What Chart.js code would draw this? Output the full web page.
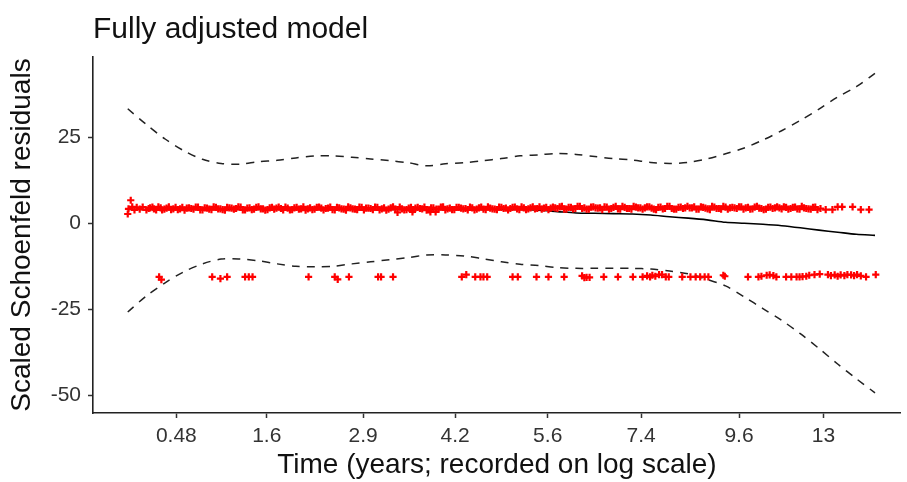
<!DOCTYPE html>
<html>
<head>
<meta charset="utf-8">
<title>Fully adjusted model</title>
<script src="https://cdn.jsdelivr.net/npm/chart.js@4.4.1/dist/chart.umd.min.js"></script>
<style>
    html, body { margin: 0; padding: 0; background: #fff; overflow: hidden; }
    #wrap { width: 907px; height: 482px; }
</style>
</head>
<body>
<div id="wrap"><canvas id="zphChart" width="907" height="482"></canvas></div>
<script>
// Transformed time (0 = first event, 1 = last event)
const timeGrid = [0, 0.025, 0.05, 0.075, 0.1, 0.125, 0.15, 0.175, 0.2, 0.225, 0.25, 0.275, 0.3, 0.325,
    0.35, 0.375, 0.4, 0.425, 0.45, 0.475, 0.5, 0.525, 0.55, 0.575, 0.6, 0.625, 0.65, 0.675, 0.7,
    0.725, 0.75, 0.775, 0.8, 0.825, 0.85, 0.875, 0.9, 0.925, 0.95, 0.975, 1.0];

// Smoothed beta(t) (hidden under the residuals until ~0.6) and its confidence band
const fitLine = [4.0, 4.0, 4.0, 4.0, 4.0, 4.0, 4.0, 4.0, 4.0, 4.0, 4.0, 4.0, 4.0, 4.0, 4.0, 4.0,
    4.0, 4.0, 4.0, 4.0, 4.0, 4.0, 3.8, 3.4, 3.0, 2.9, 2.8, 2.7, 2.4, 1.9, 1.5, 1.0, 0.3, 0.0, -0.3,
    -0.7, -1.3, -2.0, -2.6, -3.2, -3.5];
const upperCI = [33.3, 28.7, 24.5, 21.1, 18.6, 17.4, 17.2, 17.9, 18.3, 19.0, 19.6, 19.6, 19.2, 18.7,
    18.2, 17.6, 16.7, 17.3, 17.6, 18.2, 18.8, 19.6, 19.9, 20.3, 20.0, 19.4, 18.8, 18.4, 17.7, 17.4,
    17.7, 18.7, 20.2, 21.9, 24.2, 26.9, 29.9, 33.2, 36.7, 39.7, 43.6];
const lowerCI = [-25.8, -21.1, -17.3, -14.1, -11.8, -10.4, -10.4, -10.9, -11.8, -12.5, -12.6, -12.5,
    -11.8, -11.2, -10.6, -10.0, -9.2, -9.2, -9.5, -10.3, -11.2, -11.9, -12.3, -12.9, -13.1, -13.1,
    -13.1, -13.1, -13.3, -13.9, -14.7, -16.3, -18.2, -21.4, -24.8, -28.2, -32.1, -36.4, -40.9, -45.2, -49.3];

// Scaled Schoenfeld residuals [time, residual] - the dense upper cluster
const residHigh = [
    [0.000, 2.7], [0.001, 4.2], [0.004, 6.7], [0.006, 4.8], [0.009, 3.9], [0.012, 4.6], [0.016, 4.1],
    [0.020, 4.7], [0.025, 3.9], [0.030, 4.5], [0.035, 4.2], [0.041, 4.8], [0.046, 3.9], [0.052, 4.4],
    [0.058, 4.0], [0.064, 4.6], [0.070, 4.2], [0.076, 3.8], [0.082, 4.5], [0.088, 4.1], [0.094, 4.7],
    [0.100, 3.9], [0.106, 4.4], [0.112, 4.0], [0.118, 4.6], [0.124, 4.2], [0.130, 3.8], [0.136, 4.5],
    [0.142, 4.1], [0.148, 4.8], [0.154, 3.9], [0.160, 4.4], [0.166, 4.0], [0.172, 4.6], [0.178, 4.2],
    [0.184, 3.8], [0.190, 4.5], [0.196, 4.1], [0.202, 4.7], [0.208, 3.9], [0.214, 4.4], [0.220, 4.0],
    [0.226, 4.6], [0.232, 4.2], [0.238, 3.8], [0.244, 4.5], [0.250, 4.1], [0.256, 4.7], [0.262, 3.9],
    [0.268, 4.4], [0.274, 4.0], [0.280, 4.6], [0.286, 4.2], [0.292, 3.8], [0.298, 4.5], [0.304, 4.1],
    [0.310, 4.7], [0.316, 3.9], [0.322, 4.4], [0.328, 4.0], [0.334, 4.6], [0.340, 4.2], [0.346, 3.8],
    [0.352, 4.5], [0.358, 4.1], [0.361, 3.2], [0.364, 4.7], [0.370, 3.9], [0.376, 4.4], [0.381, 3.3],
    [0.382, 4.0], [0.388, 4.6], [0.394, 4.2], [0.400, 3.8], [0.405, 3.3], [0.406, 4.5], [0.412, 3.3],
    [0.413, 4.1], [0.419, 4.7], [0.425, 3.9], [0.431, 4.4], [0.437, 4.0], [0.443, 4.6], [0.449, 4.2],
    [0.455, 3.9], [0.461, 4.5], [0.467, 4.1], [0.473, 4.7], [0.479, 4.0], [0.485, 4.4], [0.491, 4.1],
    [0.497, 4.7], [0.503, 4.3], [0.509, 3.9], [0.515, 4.6], [0.521, 4.2], [0.527, 4.8], [0.533, 4.0],
    [0.539, 4.5], [0.545, 4.2], [0.551, 4.8], [0.557, 4.4], [0.563, 4.0], [0.569, 4.7], [0.575, 4.3],
    [0.581, 4.9], [0.587, 4.1], [0.593, 4.6], [0.599, 4.3], [0.605, 4.9], [0.611, 4.5], [0.617, 4.1],
    [0.623, 4.8], [0.629, 4.4], [0.635, 4.0], [0.641, 4.7], [0.647, 4.3], [0.653, 4.9], [0.659, 4.1],
    [0.665, 4.6], [0.671, 4.3], [0.677, 4.9], [0.683, 4.5], [0.689, 4.1], [0.695, 4.8], [0.701, 4.4],
    [0.707, 4.0], [0.713, 4.7], [0.719, 4.3], [0.725, 4.9], [0.731, 4.1], [0.737, 4.6], [0.743, 4.3],
    [0.749, 4.9], [0.755, 4.5], [0.761, 4.1], [0.767, 4.8], [0.773, 4.4], [0.779, 4.0], [0.785, 4.7],
    [0.791, 4.3], [0.797, 4.9], [0.803, 4.1], [0.809, 4.6], [0.815, 4.3], [0.821, 4.8], [0.827, 4.5],
    [0.833, 4.1], [0.839, 4.7], [0.845, 4.4], [0.851, 4.0], [0.857, 4.6], [0.863, 4.3], [0.869, 4.8],
    [0.875, 4.2], [0.881, 4.6], [0.887, 4.3], [0.893, 4.7], [0.899, 4.1], [0.905, 4.5], [0.911, 4.2],
    [0.917, 4.6], [0.923, 4.0], [0.927, 4.3], [0.934, 4.0], [0.943, 4.0], [0.950, 4.8], [0.956, 4.8],
    [0.970, 4.8], [0.981, 4.0], [0.992, 4.0]
];
// the same cluster, events falling between the ones above
const residHighMid = [
    [0.028, 4.3], [0.033, 4.7], [0.038, 3.9], [0.044, 4.5], [0.049, 4.1], [0.055, 4.8], [0.061, 4.2],
    [0.067, 4.0], [0.073, 4.6], [0.079, 4.4], [0.085, 4.3], [0.091, 4.7], [0.097, 3.9], [0.103, 4.5],
    [0.109, 4.1], [0.115, 4.8], [0.121, 4.2], [0.127, 4.0], [0.133, 4.6], [0.139, 4.4], [0.145, 4.3],
    [0.151, 4.7], [0.157, 3.9], [0.163, 4.5], [0.169, 4.1], [0.175, 4.8], [0.181, 4.2], [0.187, 4.0],
    [0.193, 4.6], [0.199, 4.4], [0.205, 4.3], [0.211, 4.7], [0.217, 3.9], [0.223, 4.5], [0.229, 4.1],
    [0.235, 4.8], [0.241, 4.2], [0.247, 4.0], [0.253, 4.6], [0.259, 4.4], [0.265, 4.3], [0.271, 4.7],
    [0.277, 3.9], [0.283, 4.5], [0.289, 4.1], [0.295, 4.8], [0.301, 4.2], [0.307, 4.0], [0.313, 4.6],
    [0.319, 4.4], [0.325, 4.3], [0.331, 4.7], [0.337, 3.9], [0.343, 4.5], [0.349, 4.1], [0.355, 4.8],
    [0.367, 4.2], [0.373, 4.0], [0.379, 4.6], [0.385, 4.4], [0.391, 4.3], [0.397, 4.7], [0.403, 3.9],
    [0.409, 4.5], [0.416, 4.1], [0.422, 4.8], [0.428, 4.2], [0.434, 4.0], [0.440, 4.6], [0.446, 4.4],
    [0.452, 4.3], [0.458, 4.7], [0.464, 3.9], [0.470, 4.5], [0.476, 4.1], [0.482, 4.8], [0.488, 4.2],
    [0.494, 4.0], [0.500, 4.6], [0.506, 4.4], [0.512, 4.3], [0.518, 4.7], [0.524, 4.0], [0.530, 4.5],
    [0.536, 4.2], [0.542, 4.8], [0.548, 4.3], [0.554, 4.1], [0.560, 4.6], [0.566, 4.4], [0.572, 4.5],
    [0.578, 4.8], [0.584, 4.1], [0.590, 4.6], [0.596, 4.2], [0.602, 4.9], [0.608, 4.3], [0.614, 4.1],
    [0.620, 4.7], [0.626, 4.5], [0.632, 4.5], [0.638, 4.8], [0.644, 4.1], [0.650, 4.6], [0.656, 4.2],
    [0.662, 4.9], [0.668, 4.3], [0.674, 4.1], [0.680, 4.7], [0.686, 4.5], [0.692, 4.5], [0.698, 4.8],
    [0.704, 4.1], [0.710, 4.6], [0.716, 4.2], [0.722, 4.9], [0.728, 4.3], [0.734, 4.1], [0.740, 4.7],
    [0.746, 4.5], [0.752, 4.5], [0.758, 4.8], [0.764, 4.1], [0.770, 4.6], [0.776, 4.2], [0.782, 4.9],
    [0.788, 4.3], [0.794, 4.1], [0.800, 4.7], [0.806, 4.5], [0.812, 4.5], [0.818, 4.8], [0.824, 4.1],
    [0.830, 4.6], [0.836, 4.2], [0.842, 4.9], [0.848, 4.3], [0.854, 4.1], [0.860, 4.7], [0.866, 4.5],
    [0.872, 4.5], [0.878, 4.8], [0.884, 4.1], [0.890, 4.6], [0.896, 4.2], [0.902, 4.9], [0.908, 4.3],
    [0.914, 4.1], [0.920, 4.7]
];
// the lower cluster
const residLow = [
    [0.042, -15.6], [0.045, -16.4], [0.113, -15.6], [0.124, -16.1], [0.133, -15.6], [0.157, -15.6],
    [0.162, -15.6], [0.167, -15.6], [0.242, -15.6], [0.277, -15.6], [0.281, -16.3], [0.296, -15.6],
    [0.335, -15.6], [0.339, -15.6], [0.355, -15.6], [0.447, -15.6], [0.453, -14.9], [0.465, -15.6],
    [0.472, -15.6], [0.476, -15.6], [0.481, -15.6], [0.515, -15.6], [0.522, -15.6], [0.547, -15.6],
    [0.563, -15.6], [0.584, -15.6], [0.608, -15.3], [0.611, -15.8], [0.614, -15.7], [0.618, -15.7],
    [0.637, -15.6], [0.656, -15.6], [0.676, -15.6], [0.689, -15.6], [0.695, -15.3], [0.699, -15.6],
    [0.702, -15.1], [0.706, -15.4], [0.711, -14.9], [0.715, -14.9], [0.720, -15.6], [0.724, -15.6],
    [0.742, -15.6], [0.753, -15.6], [0.760, -15.6], [0.766, -15.6], [0.772, -15.6], [0.777, -15.6],
    [0.797, -15.1], [0.799, -15.4], [0.830, -15.6], [0.844, -15.6], [0.848, -15.4], [0.855, -15.1],
    [0.859, -15.0], [0.864, -15.2], [0.868, -15.6], [0.881, -15.6], [0.888, -15.6], [0.895, -15.6],
    [0.899, -15.6], [0.903, -15.5], [0.908, -15.4], [0.912, -15.1], [0.919, -14.9], [0.926, -14.8],
    [0.937, -14.9], [0.941, -15.2], [0.946, -15.0], [0.950, -15.4], [0.954, -15.0], [0.959, -15.2],
    [0.963, -14.9], [0.968, -15.0], [0.972, -15.2], [0.976, -14.9], [0.981, -15.3], [0.988, -15.6],
    [1.001, -14.9]
];

// Axis ticks: positions on the transformed scale and the times they stand for
const tickPos = [0.065, 0.186, 0.315, 0.438, 0.562, 0.687, 0.818, 0.931];
const tickLabels = ['0.48', '1.6', '2.9', '4.2', '5.6', '7.4', '9.6', '13'];
const yTicks = [-50, -25, 0, 25];

const FONT = '"Liberation Sans", Arial, sans-serif';

function toPoints(xs, ys) {
    return xs.map((x, i) => ({ x: x, y: ys[i] }));
}
function pairsToPoints(pairs) {
    return pairs.map(p => ({ x: p[0], y: p[1] }));
}

const residStyle = {
    type: 'scatter',
    pointStyle: 'cross',
    pointRadius: 3.6,
    borderColor: '#ff0000',
    backgroundColor: '#ff0000',
    borderWidth: 2.2
};
const ciStyle = {
    type: 'line',
    borderColor: '#222',
    borderWidth: 1.5,
    borderDash: [8, 7],
    pointRadius: 0,
    tension: 0.3,
    fill: false
};

const ctx = document.getElementById('zphChart').getContext('2d');
const zphChart = new Chart(ctx, {
    type: 'scatter',
    data: {
        datasets: [
            Object.assign({ data: pairsToPoints(residHigh) }, residStyle),
            Object.assign({ data: pairsToPoints(residHighMid) }, residStyle),
            Object.assign({ data: pairsToPoints(residLow) }, residStyle),
            {
                type: 'line',
                data: toPoints(timeGrid, fitLine),
                borderColor: '#000',
                borderWidth: 1.6,
                pointRadius: 0,
                tension: 0.3,
                fill: false
            },
            Object.assign({ data: toPoints(timeGrid, upperCI) }, ciStyle),
            Object.assign({ data: toPoints(timeGrid, lowerCI) }, ciStyle)
        ]
    },
    options: {
        responsive: false,
        animation: false,
        layout: { padding: 0 },
        plugins: {
            legend: { display: false },
            tooltip: { enabled: false },
            title: {
                display: true,
                text: 'Fully adjusted model',
                align: 'start',
                fullSize: false,
                color: '#111',
                font: { family: FONT, size: 30, weight: 'normal', lineHeight: 1.2 },
                padding: { top: 12, bottom: 9 }
            }
        },
        scales: {
            x: {
                type: 'linear',
                min: -0.0465,
                max: 1.0345,
                afterFit: (scale) => { scale.height = 69; },
                afterBuildTicks: (scale) => { scale.ticks = tickPos.map(v => ({ value: v })); },
                ticks: {
                    autoSkip: false,
                    maxRotation: 0,
                    padding: 6,
                    color: '#333',
                    font: { family: FONT, size: 21 },
                    callback: (value, index) => tickLabels[index]
                },
                grid: { drawOnChartArea: false, drawTicks: true, tickLength: 5, tickWidth: 1.5, tickColor: '#333' },
                border: { display: true, color: '#222', width: 1.6 },
                title: {
                    display: true,
                    text: 'Time (years; recorded on log scale)',
                    color: '#111',
                    font: { family: FONT, size: 28, lineHeight: 1.2 },
                    padding: { top: 0, bottom: 0 }
                }
            },
            y: {
                type: 'linear',
                min: -55.15,
                max: 48.34,
                afterFit: (scale) => { scale.width = 93; },
                afterBuildTicks: (scale) => { scale.ticks = yTicks.map(v => ({ value: v })); },
                ticks: {
                    padding: 7,
                    color: '#333',
                    font: { family: FONT, size: 21 },
                    callback: (value) => String(value)
                },
                grid: { drawOnChartArea: false, drawTicks: true, tickLength: 5, tickWidth: 1.5, tickColor: '#333' },
                border: { display: true, color: '#222', width: 1.6 },
                title: {
                    display: true,
                    text: 'Scaled Schoenfeld residuals',
                    color: '#111',
                    font: { family: FONT, size: 28, lineHeight: 1.2 },
                    padding: { top: 5, bottom: 0 }
                }
            }
        }
    }
});
</script>
</body>
</html>
